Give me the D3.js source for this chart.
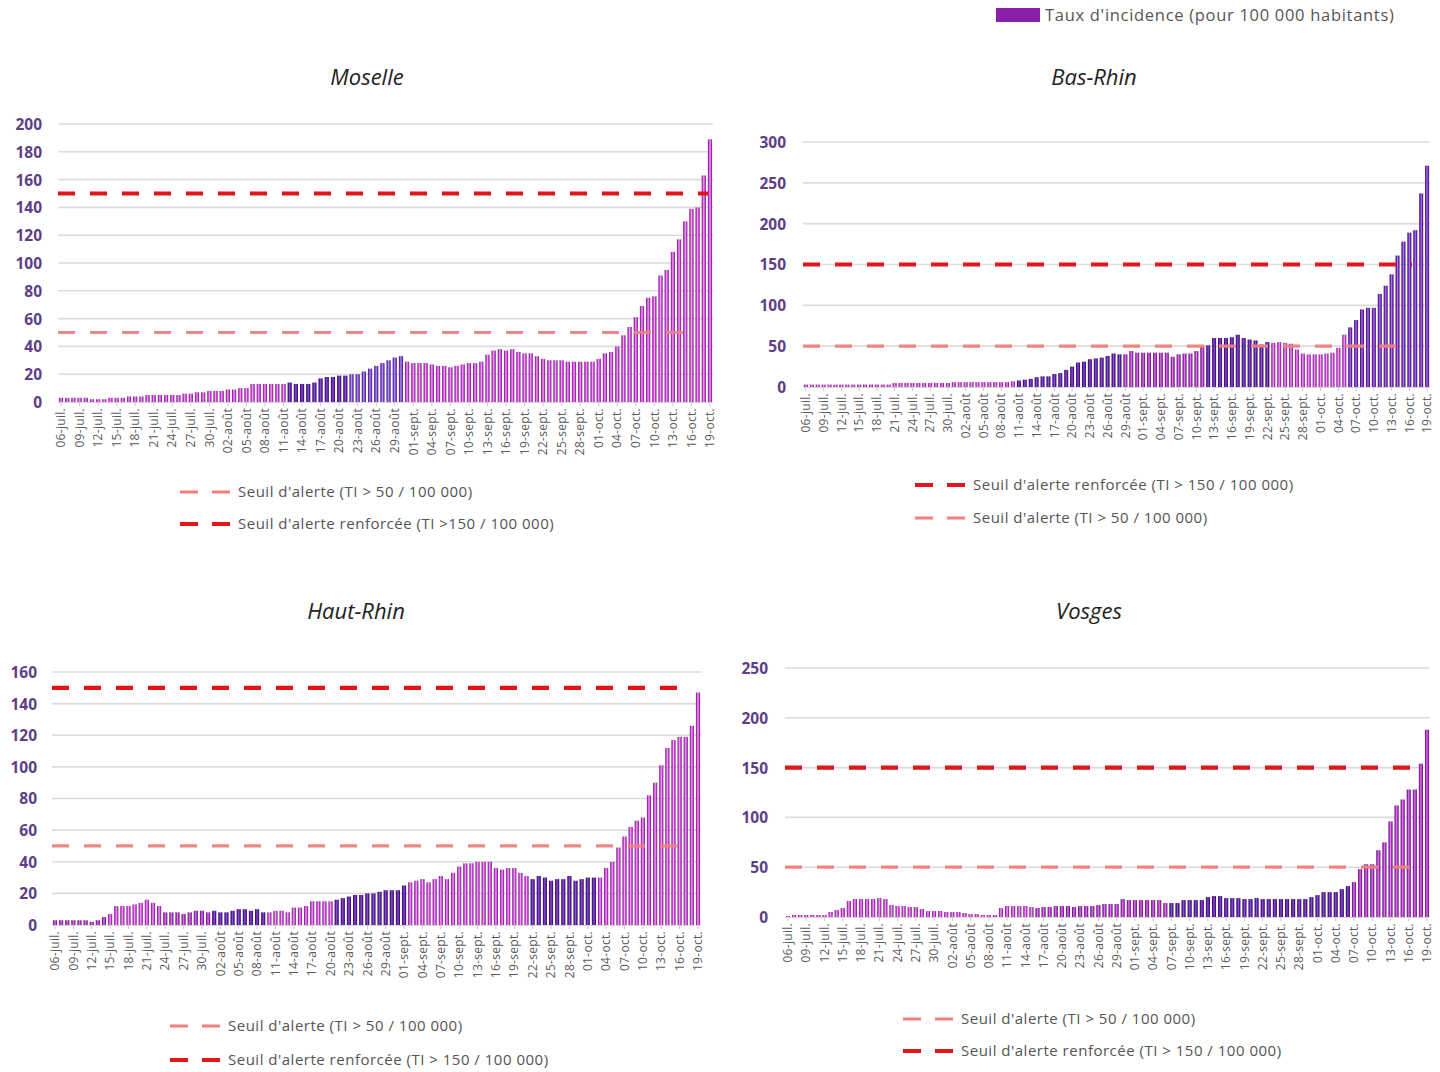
<!DOCTYPE html>
<html><head><meta charset="utf-8">
<script src="https://cdn.jsdelivr.net/npm/d3@7"></script>
<style>
html,body{margin:0;padding:0;background:#fff;}
svg{display:block;}
</style></head>
<body>
<svg id="chart" width="1440" height="1072"></svg>
<script>
// ---------- DATA ----------
const startDate = "2020-07-06";
const endDate = "2020-10-19";
const tickLabels = ["06-juil.","09-juil.","12-juil.","15-juil.","18-juil.","21-juil.","24-juil.","27-juil.","30-juil.",
  "02-août","05-août","08-août","11-août","14-août","17-août","20-août","23-août","26-août","29-août",
  "01-sept.","04-sept.","07-sept.","10-sept.","13-sept.","16-sept.","19-sept.","22-sept.","25-sept.","28-sept.",
  "01-oct.","04-oct.","07-oct.","10-oct.","13-oct.","16-oct.","19-oct."];

const moselleValues = [3,3,3,3,3,2,2,2,3,3, 3,4,4,4,5,5,5,5,5,5, 6,6,7,7,8,8,8,9,9,10,
  10,13,13,13,13,13,13,14,13,13, 13,14,17,18,18,19,19,20,20,22, 24,26,28,30,32,33,29,28,28,28,
  27,26,26,25,26,27,28,28,29,34, 37,38,37,38,36,35,35,33,31,30, 30,30,29,29,29,29,29,31,35,36,
  40,48,54,61,69,75,76,91,95,108, 117,130,139,140,163,189];
const basRhinValues = [3,3,3,3,3,3,3,3,3,3, 3,3,3,3,3,5,5,5,5,5, 5,5,5,5,5,6,6,6,6,6,
  6,6,6,6,6,7,8,9,10,12, 13,13,16,17,21,25,30,31,34,35, 36,38,41,40,40,44,42,42,42,42,
  42,42,37,40,41,41,44,50,51,60, 60,60,61,64,60,58,57,52,55,54, 55,54,53,46,41,40,40,40,41,42,
  48,64,73,82,95,97,97,114,124,138, 161,178,189,192,237,271];
const hautRhinValues = [3,3,3,3,3,3,2,3,5,7, 12,12,12,13,14,16,14,12,8,8, 8,7,8,9,9,8,9,8,8,9,
  10,10,9,10,8,8,9,9,8,11, 11,12,15,15,15,15,16,17,18,19, 19,20,20,21,22,22,22,25,27,28,
  29,27,29,31,29,33,37,39,39,40, 40,40,36,35,36,36,33,31,29,31, 30,28,29,29,31,28,29,30,30,30,
  36,40,49,56,62,66,68,82,90,101, 112,117,119,119,126,147];
const vosgesValues = [1,2,2,2,2,2,2,5,7,9, 16,18,18,18,18,19,18,12,11,11, 10,10,8,6,6,6,5,5,5,4,
  3,3,2,2,2,9,11,11,11,11, 10,9,10,10,11,11,11,10,11,11, 11,12,13,13,13,18,17,17,17,17,
  17,17,14,14,14,17,17,17,17,20, 21,21,19,19,19,18,18,19,18,18, 18,18,18,18,18,18,20,22,25,25,
  25,28,31,35,48,53,53,67,75,96, 112,118,128,128,154,188];

const panelNames = ["Moselle","Bas-Rhin","Haut-Rhin","Vosges"];
const alertLevel = 50, reinforcedLevel = 150;
const legendAlert = "Seuil d'alerte (TI > 50 / 100 000)";
const legendReinforced = ["Seuil d'alerte renforcée (TI >150 / 100 000)","Seuil d'alerte renforcée (TI > 150 / 100 000)"];
const seriesLegend = "Taux d'incidence (pour 100 000 habitants)";

// ---------- LAYOUT ----------
const days = d3.timeDay.range(new Date(startDate+"T00:00:00"), d3.timeDay.offset(new Date(endDate+"T00:00:00"),1));
const n = days.length;

const panels = [
  {name:panelNames[0], values:moselleValues, left:58, right:713, y0:402, yTop:124, yMax:200, yStep:20,
   labelX:42, titleX:367, titleY:77, alertEnd:688, reinfEnd:708,
   legend:[{t:"a",x:180,y:492,text:legendAlert},{t:"r",x:180,y:524,text:legendReinforced[0]}],
   shade:[[0,36,"pink"],[37,46,"violet"],[47,55,"lilac"],[56,105,"pink"]]},
  {name:panelNames[1], values:basRhinValues, left:803, right:1430, y0:387, yTop:142, yMax:300, yStep:50,
   labelX:786, titleX:1094, titleY:77, alertEnd:1412, reinfEnd:1412,
   legend:[{t:"r",x:915,y:485,text:legendReinforced[1]},{t:"a",x:915,y:518,text:legendAlert}],
   shade:[[0,35,"pink"],[36,53,"violet"],[54,67,"purple"],[68,78,"violet"],[79,91,"pink"],[92,105,"violet2"]]},
  {name:panelNames[2], values:hautRhinValues, left:52, right:701, y0:925, yTop:672, yMax:160, yStep:20,
   labelX:37, titleX:356, titleY:611, alertEnd:682, reinfEnd:682,
   legend:[{t:"a",x:170,y:1026,text:legendAlert},{t:"r",x:170,y:1060,text:legendReinforced[1]}],
   shade:[[0,8,"purple"],[9,17,"pink"],[18,25,"purple"],[26,34,"violet"],[35,45,"pink"],[46,57,"violet"],[58,77,"pink"],[78,88,"violet"],[89,105,"pink"]]},
  {name:panelNames[3], values:vosgesValues, left:785, right:1430, y0:917, yTop:668, yMax:250, yStep:50,
   labelX:768, titleX:1089, titleY:611, alertEnd:1410, reinfEnd:1410,
   legend:[{t:"a",x:903,y:1019,text:legendAlert},{t:"r",x:903,y:1051,text:legendReinforced[1]}],
   shade:[[0,40,"pink"],[41,62,"purple"],[63,92,"violet"],[93,105,"purple"]]}
];

const svg = d3.select("#chart");
const defs = svg.append("defs");
const grads = {
  pink:   ["#6a1880","#c03ccc","#f8a8f8","#c03ccc","#6a1880"],
  purple: ["#561276","#a02ab4","#dc80e4","#a02ab4","#561276"],
  violet: ["#2e0b62","#54199a","#8c56d2","#54199a","#2e0b62"],
  violet2:["#3b0e72","#6a24b0","#b07ae8","#6a24b0","#3b0e72"],
  lilac:  ["#3d157a","#6e3cc0","#b59af0","#6e3cc0","#3d157a"]
};
Object.entries(grads).forEach(([k,cols])=>{
  const g = defs.append("linearGradient").attr("id","g-"+k).attr("x1","0%").attr("x2","100%").attr("y1","0%").attr("y2","0%");
  cols.forEach((c,i)=>g.append("stop").attr("offset",(i*25)+"%").attr("stop-color",c));
});

const FONT = "'Open Sans','Noto Sans','DejaVu Sans',sans-serif";

// top legend
svg.append("rect").attr("x",996).attr("y",8).attr("width",44).attr("height",14).attr("fill","#8b1fa9");
svg.append("text").attr("x",1045).attr("y",21).attr("font-family",FONT).attr("font-size",16.5)
  .attr("fill","#555").attr("letter-spacing","0.7").text(seriesLegend);

panels.forEach(p=>{
  const g = svg.append("g");
  const x = d3.scaleBand().domain(d3.range(n)).range([p.left,p.right]).paddingInner(0.32).paddingOuter(0.15);
  const y = d3.scaleLinear().domain([0,p.yMax]).range([p.y0,p.yTop]);
  const ticks = d3.range(0,p.yMax+0.001,p.yStep);

  // gridlines
  g.append("g").selectAll("line").data(ticks.filter(t=>t>0)).join("line")
    .attr("x1",p.left).attr("x2",p.right).attr("y1",d=>y(d)).attr("y2",d=>y(d))
    .attr("stroke","#dcdcdc").attr("stroke-width",1.6);

  // y axis labels via d3 axis
  const yAxis = d3.axisLeft(y).tickValues(ticks).tickSize(0).tickPadding(0).tickFormat(d3.format("d"));
  const ya = g.append("g").attr("transform",`translate(${p.labelX},0)`).call(yAxis);
  ya.select(".domain").remove();
  ya.selectAll("text").attr("font-family",FONT).attr("font-size",15.5).attr("font-weight",700)
    .attr("fill","#5c3f86").attr("dy","0.35em");

  // baseline
  g.append("line").attr("x1",p.left).attr("x2",p.right).attr("y1",p.y0+0.5).attr("y2",p.y0+0.5)
    .attr("stroke","#d8d8d8").attr("stroke-width",1);

  // bars
  const shadeOf = i => { const s = p.shade.find(r=>i>=r[0]&&i<=r[1]); return s? s[2] : "pink"; };
  g.append("g").selectAll("rect").data(p.values).join("rect")
    .attr("x",(d,i)=>x(i)).attr("width",x.bandwidth())
    .attr("y",d=>y(d)).attr("height",d=>p.y0-y(d))
    .attr("fill",(d,i)=>`url(#g-${shadeOf(i)})`);

  // x axis with tick labels every 3 days
  const tickIdx = tickLabels.map((t,k)=>k*3);
  const xAxis = d3.axisBottom(x).tickValues(tickIdx).tickSize(4).tickFormat(d=>tickLabels[tickIdx.indexOf(d)]);
  const xa = g.append("g").attr("transform",`translate(0,${p.y0})`).call(xAxis);
  xa.select(".domain").remove();
  xa.selectAll(".tick line").attr("stroke","#c8c8c8");
  xa.selectAll("text").attr("font-family",FONT).attr("font-size",12).attr("letter-spacing","0.3").attr("fill","#5a5a5a")
    .attr("transform","rotate(-90)").attr("text-anchor","end").attr("x",-6).attr("y",0).attr("dy","0.35em");

  // threshold lines (on top of bars)
  g.append("line").attr("x1",p.left).attr("x2",p.alertEnd).attr("y1",y(alertLevel)).attr("y2",y(alertLevel))
    .attr("stroke","#f1807e").attr("stroke-width",3.2).attr("stroke-dasharray","17 15").attr("opacity",0.95);
  g.append("line").attr("x1",p.left).attr("x2",p.reinfEnd).attr("y1",y(reinforcedLevel)).attr("y2",y(reinforcedLevel))
    .attr("stroke","#e3151b").attr("stroke-width",4.2).attr("stroke-dasharray","17 15");

  // title
  g.append("text").attr("x",p.titleX).attr("y",p.titleY).attr("text-anchor","middle").attr("dy","0.35em")
    .attr("font-family",FONT).attr("font-style","italic").attr("font-size",22).attr("fill","#222").text(p.name);

  // legend
  p.legend.forEach(l=>{
    const col = l.t==="a" ? "#f1807e" : "#e3151b";
    const sw = l.t==="a" ? 3.2 : 4.2;
    g.append("line").attr("x1",l.x).attr("x2",l.x+50).attr("y1",l.y).attr("y2",l.y)
      .attr("stroke",col).attr("stroke-width",sw).attr("stroke-dasharray","18 14");
    g.append("text").attr("x",l.x+58).attr("y",l.y).attr("dy","0.35em").attr("font-family",FONT)
      .attr("font-size",15).attr("letter-spacing","0.5").attr("fill","#555").text(l.text);
  });
});
</script>
</body></html>
